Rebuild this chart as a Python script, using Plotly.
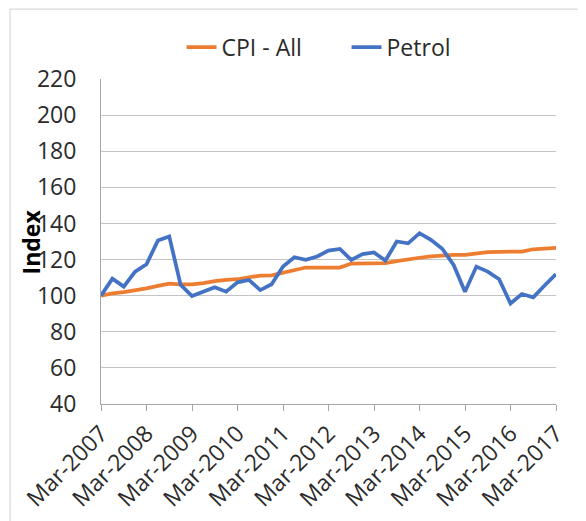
import plotly.graph_objects as go

years = list(range(2007, 2018))
months = ["Mar", "Jun", "Sep", "Dec"]
quarters = [f"{m}-{y}" for y in years for m in months][:41]
tick_labels = [f"Mar-{y}" for y in years]

cpi_all = [100.0, 101.3, 102.0, 102.8, 104.0, 105.4, 106.7, 106.3, 106.3, 106.9,
           108.1, 108.7, 109.1, 110.2, 111.1, 111.3, 112.8, 113.9, 115.6, 115.6,
           115.6, 115.6, 117.8, 118.0, 118.0, 118.0, 119.1, 120.2, 121.0, 121.7,
           122.4, 122.6, 122.6, 123.5, 124.1, 124.3, 124.3, 124.4, 125.7, 125.9,
           126.5]
petrol = [100.0, 109.4, 105.0, 113.3, 117.4, 130.5, 132.8, 106.0, 99.8, 102.2,
          104.6, 102.2, 107.4, 108.7, 103.1, 106.3, 116.1, 121.3, 119.8, 121.7,
          125.0, 125.9, 119.8, 123.0, 123.9, 119.4, 130.0, 129.0, 134.6, 130.9,
          126.0, 117.0, 102.2, 116.1, 113.3, 109.1, 95.7, 100.9, 99.1, 105.6,
          111.9]

FONT = "Open Sans"
TXT = "#2b2b2b"
GRID = "#c4c4c4"
FS = 23

fig = go.Figure()
fig.add_trace(go.Scatter(x=quarters, y=cpi_all, mode="lines", name="CPI - All",
                         line=dict(color="#ED7D31", width=3.75)))
fig.add_trace(go.Scatter(x=quarters, y=petrol, mode="lines", name="Petrol",
                         line=dict(color="#4472C4", width=3.75)))

fig.update_layout(
    width=586, height=521,
    margin=dict(l=93, r=38, t=71, b=125, pad=0, autoexpand=False),
    paper_bgcolor="white", plot_bgcolor="white",
    font=dict(family=FONT, size=FS, color=TXT),
    showlegend=True,
    legend=dict(orientation="h", x=0.177, xanchor="left", y=1.098, yanchor="middle",
                font=dict(size=FS, color=TXT), bgcolor="rgba(0,0,0,0)",
                entrywidth=120, entrywidthmode="pixels", tracegroupgap=0),
)
fig.update_xaxes(
    type="category", range=[0, 40], automargin=False,
    tickmode="array", tickvals=tick_labels, ticktext=tick_labels,
    tickangle=-45, ticks="outside", ticklen=6, tickcolor="#a6a6a6",
    showline=True, linecolor="#a6a6a6", linewidth=1,
    showgrid=False, zeroline=False,
    tickfont=dict(size=FS, color=TXT, family=FONT),
)
fig.update_yaxes(
    range=[40, 220], dtick=20, tick0=40, automargin=False,
    showgrid=True, gridcolor=GRID, gridwidth=1,
    showline=True, linecolor="#a6a6a6", linewidth=1,
    zeroline=False, ticks="", ticklabelstandoff=19,
    tickfont=dict(size=FS, color=TXT, family=FONT),
)
fig.add_annotation(text="<b>Index</b>", xref="paper", yref="paper",
                   x=-0.154, y=0.5, xanchor="center", yanchor="middle",
                   textangle=-90, showarrow=False,
                   font=dict(size=FS, color="black", family=FONT))
# chart frame
fig.add_shape(type="line", xref="paper", yref="paper", x0=-0.2, x1=-0.2,
              y0=-0.5, y1=1.215, line=dict(color="#d0d0d0", width=1))
fig.add_shape(type="line", xref="paper", yref="paper", x0=-0.2, x1=1.2,
              y0=1.215, y1=1.215, line=dict(color="#d0d0d0", width=1))

fig.write_html("out.html")
